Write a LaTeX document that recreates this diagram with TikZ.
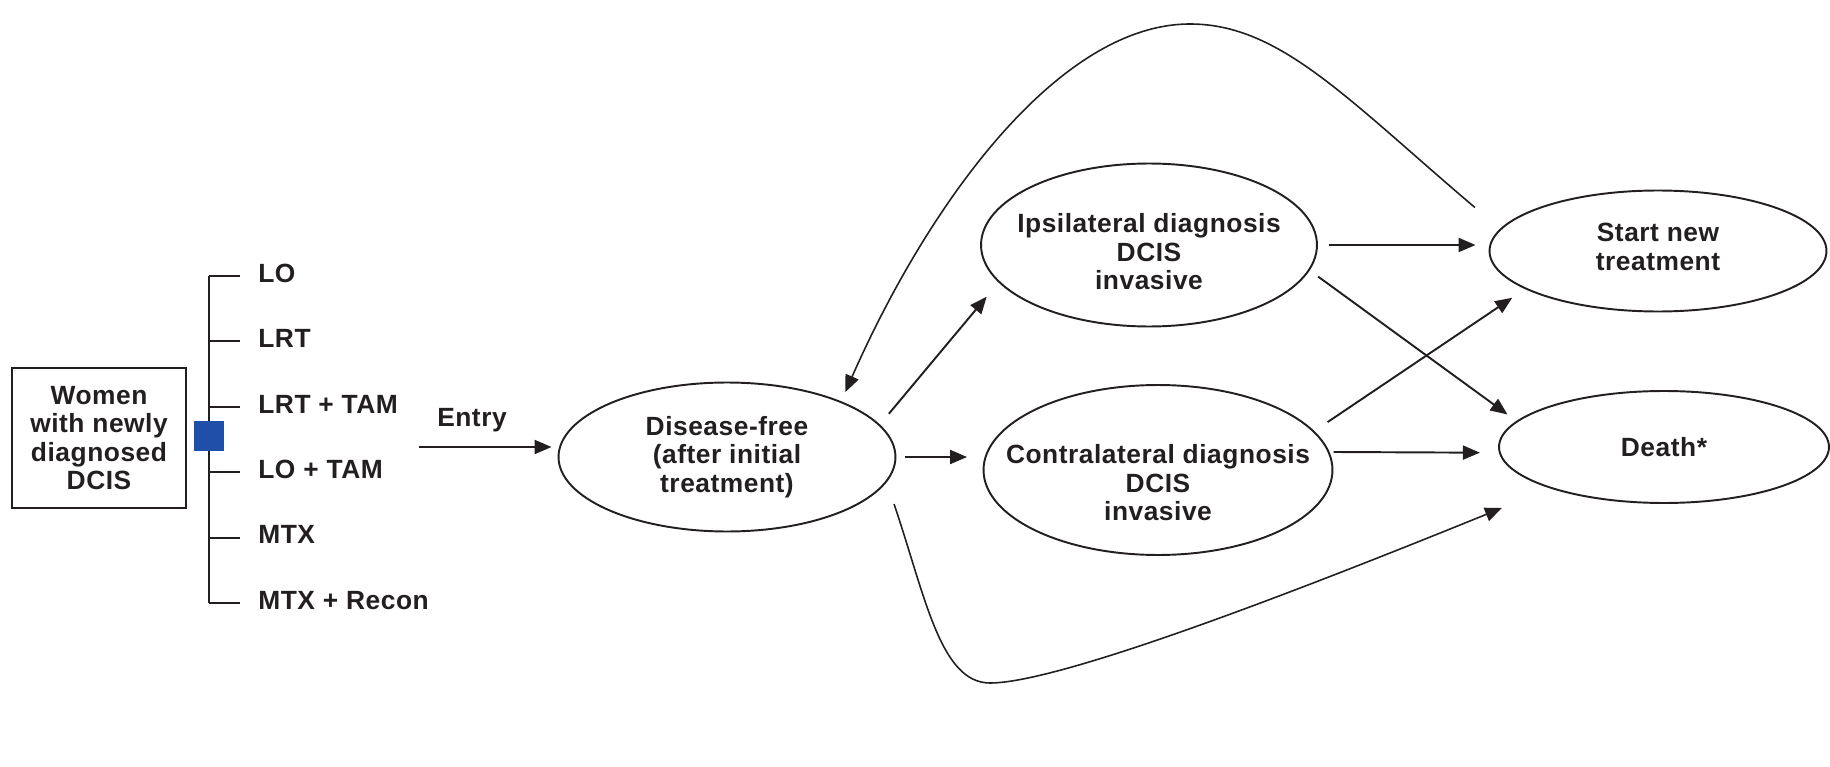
\documentclass[tikz,border=0pt]{standalone}
\usepackage{fontspec}
\setmainfont{Liberation Sans}[LetterSpace=2]
\usetikzlibrary{shapes.geometric, arrows.meta, calc, positioning}
\definecolor{dcisblue}{HTML}{1F4FA8}
\definecolor{inchiostro}{HTML}{231F20}
\newcommand{\diagfont}{\fontsize{15}{16.2}\selectfont\bfseries}
\tikzset{
  % stato del modello (solo il contorno)
  stato/.style={ellipse, draw=inchiostro, line width=1.1pt, inner sep=0pt},
  % testo dentro uno stato
  testo/.style={align=center, font=\diagfont, text=inchiostro, inner sep=0pt},
  % scatola di partenza
  box/.style={draw=inchiostro, line width=1.1pt, minimum width=3.48cm,
    minimum height=2.8cm, align=center, font=\diagfont, text=inchiostro},
  % opzione di trattamento
  opz/.style={anchor=west, inner sep=0pt, text height=0.72em, text depth=0pt,
    font=\diagfont, text=inchiostro},
  ramo/.style={draw=inchiostro, line width=1.1pt},
  % transizioni
  trans/.style={-{Triangle[length=0.34cm, width=0.28cm]}, line width=1.1pt,
    draw=inchiostro},
  curva/.style={trans, line width=0.9pt},
  lbl/.style={font=\diagfont, text=inchiostro},
}

\begin{document}
\begin{tikzpicture}[x=0.02cm, y=-0.02cm]
  \useasboundingbox (0,0) rectangle (1830,767);

  % popolazione e opzioni iniziali
  \node[box] (donne) at (99,438) {Women\\with newly\\diagnosed\\DCIS};
  \foreach \i/\t in {1/LO, 2/LRT, 3/LRT + TAM, 4/LO + TAM, 5/MTX, 6/MTX + Recon} {
    \node[opz] (o\i) at (258,{276+65.4*(\i-1)}) {\t};
    \draw[ramo] ([xshift=-0.36cm]o\i.west) -- ++(-0.62cm,0);
  }
  \draw[ramo] ([xshift=-0.98cm]o1.west) -- ([xshift=-0.98cm]o6.west);
  \node[fill=dcisblue, minimum size=0.6cm, inner sep=0pt] (nodo) at (209,436) {};

  % stati
  \node[stato, minimum width=6.74cm, minimum height=2.98cm] (libera) at (727,457) {};
  \node[testo] (liberat) at (libera) {Disease-free\\(after initial\\treatment)};
  \node[stato, minimum width=6.72cm, minimum height=3.26cm] (ipsi) at (1149,245) {};
  \node[testo] (ipsit) at (1149,252) {Ipsilateral diagnosis\\DCIS\\invasive};
  \node[stato, minimum width=6.98cm, minimum height=3.4cm] (contro) at (1158,470) {};
  \node[testo] (controt) at (1158,483) {Contralateral diagnosis\\DCIS\\invasive};
  \node[stato, minimum width=6.74cm, minimum height=2.42cm] (nuovo) at (1658,251) {};
  \node[testo] (nuovot) at (1658,247) {Start new\\treatment};
  \node[stato, minimum width=6.6cm, minimum height=2.24cm] (morte) at (1664,447) {};
  \node[testo] (mortet) at (morte) {Death*};

  % ingresso
  \coordinate (entry) at (419,447);
  \node[lbl] (entrata) at (472,420) {Entry};
  \draw[trans, shorten >=0.12cm] (entry) -- (entry -| libera.west);

  % transizioni dirette
  \draw[trans, shorten <=0.28cm, shorten >=0.37cm] (libera.12) -- (ipsi.194);
  \draw[trans, shorten <=0.18cm, shorten >=0.31cm] (libera.east) -- (libera.east -| contro.west);
  \draw[trans, shorten <=0.22cm, shorten >=0.26cm] (ipsi.east) -- (ipsi.east -| nuovo.west);
  \draw[trans, shorten <=0.21cm, shorten >=0.22cm] (ipsi.-9) -- (morte.170);
  \draw[trans, shorten <=0.32cm, shorten >=0.31cm] (contro.14) -- (nuovo.196);
  \draw[trans, shorten <=0.08cm, shorten >=0.38cm] (contro.6) -- (morte.182);

  % ritorno e decesso senza recidiva
  \draw[curva, shorten <=0.66cm, shorten >=0.2cm] (nuovo.172)
    .. controls (1347,99) and (1280,24) .. (1190,24)
    .. controls (1060,24) and (930,200) .. (libera.26);
  \draw[curva, shorten <=0.46cm, shorten >=1.04cm] (libera.-9)
    .. controls (925,595) and (940,683) .. (990,683)
    .. controls (1060,683) and (1300,590) .. (morte.200);
\end{tikzpicture}
\end{document}
